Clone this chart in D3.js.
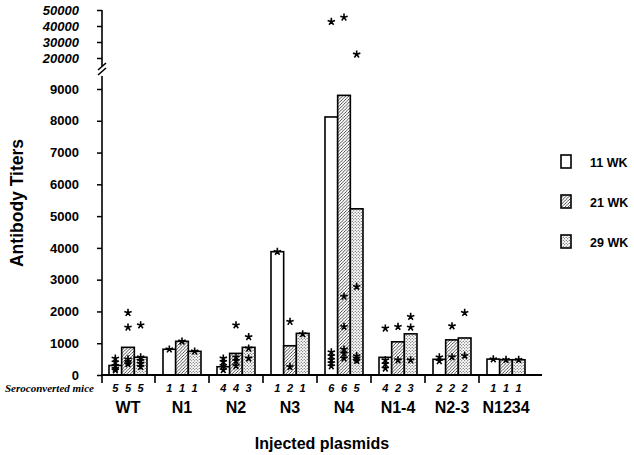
<!DOCTYPE html>
<html><head><meta charset="utf-8">
<script src="https://cdn.jsdelivr.net/npm/d3@7"></script>
<style>body{margin:0;background:#fff}svg{display:block}</style>
</head><body>
<svg id="c" width="634" height="455"></svg>
<script>
const groups = ["WT","N1","N2","N3","N4","N1-4","N2-3","N1234"];
const series = ["11 WK","21 WK","29 WK"];
const wk11 = [300, 810, 260, 3880, 8120, 556, 494, 500];
const wk21 = [870, 1060, 680, 920, 8800, 1045, 1105, 480];
const wk29 = [560, 745, 870, 1310, 5230, 1295, 1165, 480];
const mice11 = [5,1,4,1,6,4,2,1];
const mice21 = [5,1,4,2,6,2,2,1];
const mice29 = [5,1,3,1,5,3,2,1];
const stars11 = [[520,400,290,200,150],[810],[525,420,290,160],[3880],[42700,720,600,480,380,280],[1470,470,350,210],[560,440],[500]];
const stars21 = [[1960,1500,500,420,350],[1060],[1570,560,450,290],[1680,260],[45400,2470,1520,808,680,525],[1520,470],[1540,566],[480]];
const stars29 = [[1570,560,450,360,260],[745],[1200,840,525],[1290],[22300,2780,600,525,450],[1835,1500,470],[1960,607],[480]];
const lowerTicks = [0,1000,2000,3000,4000,5000,6000,7000,8000,9000];
const upperTicks = [20000,30000,40000,50000];

const svg = d3.select("#c");
const defs = svg.append("defs");
const hp = defs.append("pattern").attr("id","hatch").attr("patternUnits","userSpaceOnUse").attr("width",3.2).attr("height",3.2);
hp.append("rect").attr("width",3.2).attr("height",3.2).attr("fill","#fff");
hp.append("path").attr("d","M-0.8,0.8 L0.8,-0.8 M0,3.2 L3.2,0 M2.4,4 L4,2.4").attr("stroke","#222").attr("stroke-width",0.8);
const dp = defs.append("pattern").attr("id","dots").attr("patternUnits","userSpaceOnUse").attr("width",3).attr("height",3);
dp.append("rect").attr("width",3).attr("height",3).attr("fill","#fff");
dp.append("circle").attr("cx",0.75).attr("cy",0.75).attr("r",0.6).attr("fill","#333");
dp.append("circle").attr("cx",2.25).attr("cy",2.25).attr("r",0.6).attr("fill","#333");
const fills = ["#fff","url(#hatch)","url(#dots)"];

const yLow = d3.scaleLinear().domain([0,9000]).range([375,89]);
const yUp = d3.scaleLinear().domain([20000,50000]).range([58,10]);
const yv = v => v > 10000 ? yUp(v) : yLow(v);
const x = d3.scaleBand().domain(groups).range([101,533]);
const xs = d3.scaleBand().domain(series).range([8,46]);

const vals = [wk11,wk21,wk29], mice=[mice11,mice21,mice29], stars=[stars11,stars21,stars29];
const F = "'Liberation Sans', Arial, sans-serif";

// bars
const gG = svg.append("g").selectAll("g").data(groups).join("g").attr("transform",g=>`translate(${x(g)},0)`);
series.forEach((s,si)=>{
  gG.append("rect")
    .attr("x",xs(s)).attr("width",xs.bandwidth())
    .attr("y",(g,i)=>yLow(vals[si][i])).attr("height",(g,i)=>375-yLow(vals[si][i]))
    .attr("fill",fills[si]).attr("stroke","#000").attr("stroke-width",1.6);
});

// stars
const ast = {draw(ctx,size){const r=Math.sqrt(size);for(let k=0;k<5;k++){const a=-Math.PI/2+k*2*Math.PI/5;ctx.moveTo(0,0);ctx.lineTo(r*Math.cos(a),r*Math.sin(a));}}};
const starSym = d3.symbol().type(ast).size(15);
series.forEach((s,si)=>{
  gG.each(function(g,i){
    d3.select(this).selectAll(null).data(stars[si][i]).join("path")
      .attr("d",starSym)
      .attr("transform",v=>`translate(${xs(s)+xs.bandwidth()/2},${yv(v)})`)
      .attr("fill","none").attr("stroke","#000").attr("stroke-width",1.6);
  });
});

// y axes
const axL = svg.append("g").attr("transform","translate(102,0)")
  .call(d3.axisLeft(yLow).tickValues(lowerTicks).tickSize(5).tickSizeOuter(0).tickPadding(18).tickFormat(d3.format("d")));
axL.select(".domain").remove();
axL.selectAll("text").attr("font-family",F).attr("font-weight","bold").attr("font-size",13).attr("fill","#000");
const axU = svg.append("g").attr("transform","translate(102,0)")
  .call(d3.axisLeft(yUp).tickValues(upperTicks).tickSize(5).tickSizeOuter(0).tickPadding(18).tickFormat(d3.format("d")));
axU.select(".domain").remove();
axU.selectAll("text").attr("font-family",F).attr("font-weight","bold").attr("font-style","italic").attr("font-size",13).attr("fill","#000");
svg.selectAll(".tick line").attr("stroke-width",1.5);
svg.append("line").attr("x1",102).attr("x2",102).attr("y1",yUp(50000)).attr("y2",66).attr("stroke","#000").attr("stroke-width",1.6);
svg.append("line").attr("x1",102).attr("x2",102).attr("y1",76).attr("y2",383).attr("stroke","#000").attr("stroke-width",1.6);
svg.append("path").attr("d","M98,70 L106,63 M98,75 L106,68").attr("stroke","#000").attr("stroke-width",1.6).attr("fill","none");

// x axis
svg.append("line").attr("x1",101).attr("x2",542).attr("y1",375).attr("y2",375).attr("stroke","#000").attr("stroke-width",1.8);
svg.append("g").selectAll("line").data(groups.slice(1)).join("line")
  .attr("x1",g=>x(g)).attr("x2",g=>x(g)).attr("y1",375).attr("y2",383).attr("stroke","#000").attr("stroke-width",1.6);
svg.append("g").selectAll("text").data(groups).join("text")
  .attr("x",g=>x(g)+x.bandwidth()/2).attr("y",413).attr("text-anchor","middle")
  .attr("font-family",F).attr("font-weight","bold").attr("font-size",16).text(g=>g);

// seroconverted mice
series.forEach((s,si)=>{
  svg.append("g").selectAll("text").data(groups).join("text")
    .attr("x",g=>x(g)+xs(s)+xs.bandwidth()/2).attr("y",392).attr("text-anchor","middle")
    .attr("font-family",F).attr("font-weight","bold").attr("font-style","italic").attr("font-size",11)
    .text((g,i)=>mice[si][i]);
});
svg.append("text").attr("x",5).attr("y",392).attr("font-family","'Liberation Serif', 'Times New Roman', serif")
  .attr("font-weight","bold").attr("font-style","italic").attr("font-size",11).text("Seroconverted mice");

// axis titles
svg.append("text").attr("x",322).attr("y",449).attr("text-anchor","middle").attr("font-family",F)
  .attr("font-weight","bold").attr("font-size",16).text("Injected plasmids");
svg.append("text").attr("transform","translate(23,203) rotate(-90)").attr("text-anchor","middle").attr("font-family",F)
  .attr("font-weight","bold").attr("font-size",17.5).text("Antibody Titers");

// legend
const lg = svg.append("g").selectAll("g").data(series).join("g")
  .attr("transform",(s,i)=>`translate(561,${155+i*40})`);
lg.append("rect").attr("width",10).attr("height",13).attr("fill",(s,i)=>fills[i]).attr("stroke","#000").attr("stroke-width",1.6);
lg.append("text").attr("x",29).attr("y",11.5).attr("font-family",F).attr("font-weight","bold").attr("font-size",12.5).text(s=>s);
</script>
</body></html>
